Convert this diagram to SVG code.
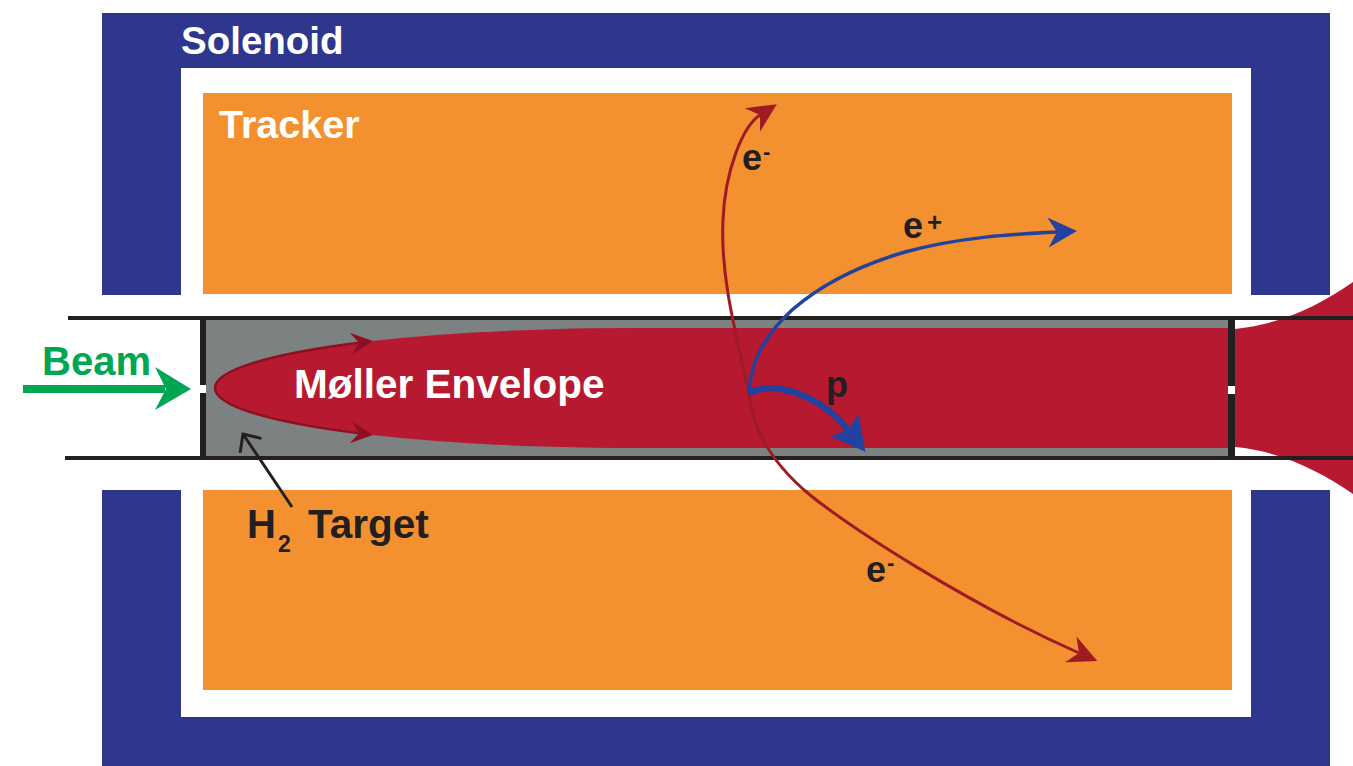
<svg xmlns="http://www.w3.org/2000/svg" width="1353" height="766" viewBox="0 0 1353 766">
  <style>
    .lbl { font-family: "Liberation Sans", Arial, sans-serif; font-weight: bold; }
    .white { fill: #ffffff; }
    .ink { fill: #231f20; }
    .pipe { stroke: #231f20; stroke-width: 4; fill: none; }
    .wall { fill: #231f20; }
    .trk-red { stroke: #9e1b24; stroke-width: 3; fill: none; }
    .trk-blue { stroke: #2342a0; stroke-width: 3.5; fill: none; }
    .trk-p { stroke: #2342a0; stroke-width: 6.5; fill: none; }
    .edge { stroke: #8e1020; stroke-width: 2.5; fill: none; }
    .pointer { stroke: #231f20; stroke-width: 3; fill: none; }
  </style>
  <defs>
    <marker id="headRed" markerUnits="userSpaceOnUse" orient="auto" refX="0" refY="0" overflow="visible">
      <path d="M20,0 L-9,-14 L0,0 L-9,14 Z" fill="#9e1b24"/>
    </marker>
    <marker id="headBlue" markerUnits="userSpaceOnUse" orient="auto" refX="0" refY="0" overflow="visible">
      <path d="M20,0 L-9,-15 L0,0 L-9,15 Z" fill="#2342a0"/>
    </marker>
    <marker id="headP" markerUnits="userSpaceOnUse" orient="auto" refX="0" refY="0" overflow="visible">
      <path d="M28,0 L-6,-18 L0,0 L-6,18 Z" fill="#2342a0"/>
    </marker>
    <marker id="headEdge" markerUnits="userSpaceOnUse" orient="auto" refX="0" refY="0" overflow="visible">
      <path d="M14,0 L-8,-11 L0,0 L-8,11 Z" fill="#8e1020"/>
    </marker>
    <marker id="headOpen" markerUnits="userSpaceOnUse" orient="auto" refX="0" refY="0" overflow="visible">
      <path d="M-13,-12 L0,0 L-13,12" fill="none" stroke="#231f20" stroke-width="3" stroke-linecap="round" stroke-linejoin="miter"/>
    </marker>
  </defs>

  <rect x="0" y="0" width="1353" height="766" fill="#ffffff"/>

  <!-- solenoid yoke: upper and lower halves -->
  <g id="solenoid">
    <path d="M102,13 H1330 V295 H1251 V68 H181 V295 H102 Z" fill="#2e368e"/>
    <path d="M102,766 H1330 V490 H1251 V717 H181 V490 H102 Z" fill="#2e368e"/>
    <text class="lbl white" x="181" y="54" font-size="38.5">Solenoid</text>
  </g>

  <!-- tracker volumes above and below the beam line -->
  <g id="tracker">
    <rect x="203" y="93" width="1029" height="201" fill="#f39130"/>
    <rect x="203" y="490" width="1029" height="200" fill="#f39130"/>
    <text class="lbl white" x="219" y="138" font-size="39.5">Tracker</text>
  </g>

  <!-- hydrogen gas target cell -->
  <g id="target">
    <rect x="206" y="320" width="1022" height="136" fill="#7c8282"/>
  </g>

  <!-- Møller scattering envelope inside the target, flaring out downstream -->
  <g id="envelope">
    <path d="M1228,328 H634 A419,60 0 0 0 634,448 H1228 Z" fill="#b71930"/>
    <path d="M1235,329 C1280,325 1320,305 1353,282 V494 C1320,471 1280,451 1235,447 Z" fill="#b71930"/>
    <path class="edge" d="M215,388 A419,60 0 0 1 359,342.7" marker-end="url(#headEdge)"/>
    <path class="edge" d="M215,388 A419,60 0 0 0 359,433.3" marker-end="url(#headEdge)"/>
    <text class="lbl white" x="294" y="398" font-size="40.5">Møller Envelope</text>
  </g>

  <!-- beam pipe walls and target end windows -->
  <g id="beampipe">
    <line class="pipe" x1="68" y1="318" x2="1353" y2="318"/>
    <line class="pipe" x1="65" y1="458" x2="1353" y2="458"/>
    <rect class="wall" x="200" y="318" width="6" height="67"/>
    <rect class="wall" x="200" y="393" width="6" height="67"/>
    <rect class="wall" x="1228" y="318" width="7" height="68"/>
    <rect class="wall" x="1228" y="394" width="7" height="66"/>
  </g>

  <!-- incoming beam -->
  <g id="beam">
    <rect x="23" y="385" width="142" height="8" fill="#00a651"/>
    <polygon points="191,389 155,367 166,389 155,410" fill="#00a651"/>
    <text class="lbl" x="42" y="375" font-size="40" fill="#00a651">Beam</text>
  </g>

  <!-- particle tracks from the interaction vertex -->
  <g id="connectors">
    <path class="trk-red" d="M749,395 C738,340 720,280 723,220 C725,170 743,126 760,115" marker-end="url(#headRed)"/>
    <path class="trk-red" d="M749,395 C753,428 770,462 810,495 C850,527 964,602 1079,653" marker-end="url(#headRed)"/>
    <path class="trk-blue" d="M749,393 C751,360 765,335 792,310 C815,290 850,268 905,252 C960,237 1014,234 1057,232" marker-end="url(#headBlue)"/>
    <path class="trk-p" d="M749,393 C775,380 820,395 848,430" marker-end="url(#headP)"/>
    <path class="pointer" d="M292,507 L243,434" marker-end="url(#headOpen)"/>
  </g>

  <!-- track labels -->
  <g id="label-e-upper">
    <text class="lbl ink" x="742" y="170" font-size="36">e<tspan x="763" y="159" font-size="22">-</tspan></text>
  </g>
  <g id="label-e-plus">
    <text class="lbl ink" x="903" y="238" font-size="36">e<tspan x="927" y="231" font-size="26">+</tspan></text>
  </g>
  <g id="label-e-lower">
    <text class="lbl ink" x="866" y="582" font-size="36">e<tspan x="887" y="570" font-size="22">-</tspan></text>
  </g>
  <g id="label-p">
    <text class="lbl ink" x="826" y="397" font-size="36">p</text>
  </g>
  <g id="label-target">
    <text class="lbl ink" x="247" y="538" font-size="40">H<tspan x="278" y="552" font-size="23">2</tspan><tspan x="308" y="538" font-size="40.5">Target</tspan></text>
  </g>
</svg>
